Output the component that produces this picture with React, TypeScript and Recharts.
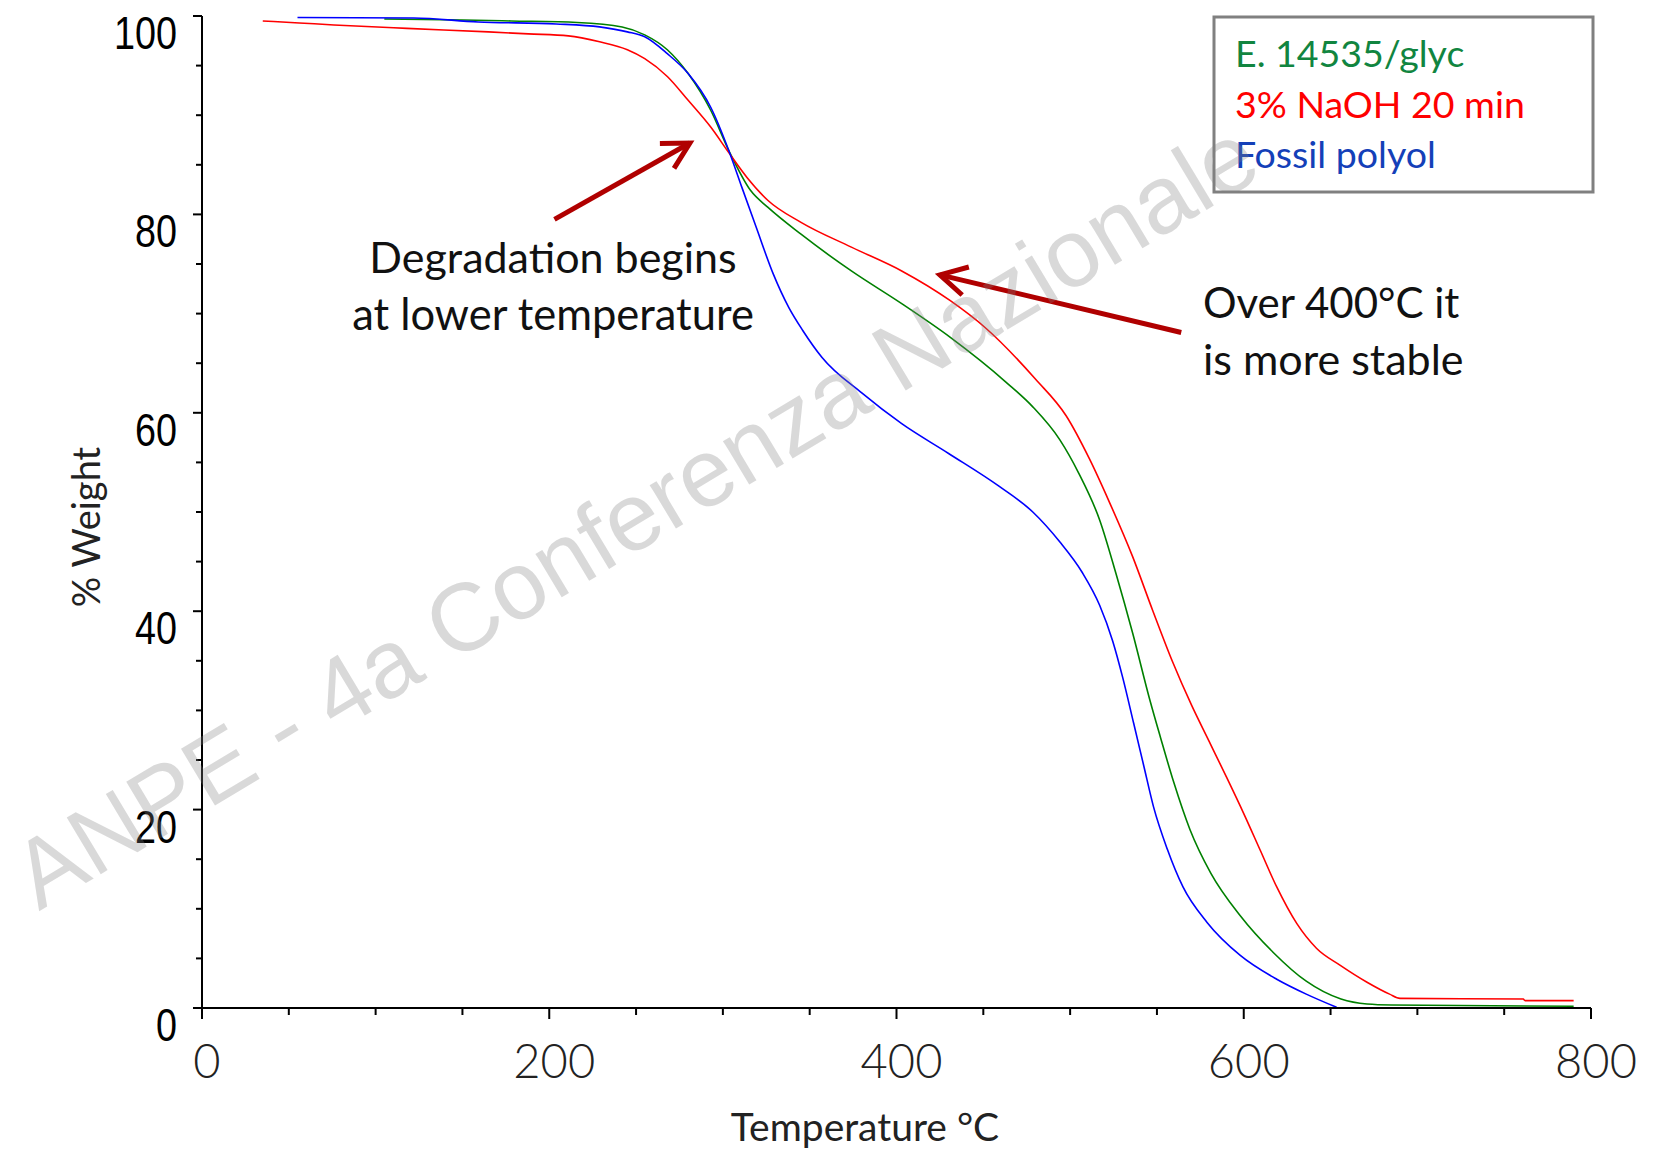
import { LineChart, Line, XAxis, YAxis, ReferenceLine } from 'recharts'

// series names, colours
const seriesNames = ['E. 14535/glyc', '3% NaOH 20 min', 'Fossil polyol']
const lineColors = ['#008000', '#ff0000', '#0000ff']
const legendColors = ['#118540', '#ff0000', '#1440b8']

// E. 14535/glyc
const glycTemp = [105, 150, 178, 216, 242, 255, 268, 280, 293, 303.5, 316, 326, 345, 374, 403, 431, 463, 478.5, 494, 505, 517, 526.4, 536, 546, 552, 559.6, 569, 581, 598, 617, 636, 656, 671, 685, 790]
const glycWeight = [99.7, 99.6, 99.5, 99.35, 98.9, 98.1, 96.6, 94.2, 90.5, 86.4, 82.4, 80.7, 78.0, 74.3, 71.0, 67.6, 63.1, 60.6, 57.3, 53.9, 49.2, 43.8, 37.8, 31.0, 27.3, 22.8, 18.0, 13.6, 9.3, 5.6, 2.7, 0.9, 0.4, 0.3, 0.17]

// 3% NaOH 20 min
const naohTemp = [35, 56, 76, 118, 165, 188, 211, 229, 245, 255, 268, 280, 293, 303.5, 314, 326, 345, 374, 403, 431, 451, 480, 497.7, 511, 522.6, 536, 547.5, 559, 570, 580, 590, 600, 609.5, 619, 630.6, 642, 655.6, 671, 684, 690, 761, 762, 790]
const naohWeight = [99.5, 99.3, 99.1, 98.75, 98.4, 98.2, 98.0, 97.4, 96.6, 95.7, 93.9, 91.5, 88.8, 86.2, 83.7, 81.4, 79.2, 76.7, 74.3, 71.3, 68.6, 63.4, 59.7, 55.4, 51.0, 45.5, 40.1, 34.9, 30.5, 26.9, 23.3, 19.6, 15.9, 12.2, 8.5, 6.0, 4.3, 2.6, 1.4, 0.97, 0.9, 0.74, 0.74]

// Fossil polyol
const fossilTemp = [55, 122, 159, 204, 229, 245, 255, 268, 280, 293, 303.5, 311, 319, 329, 338, 346, 357, 380, 403, 430, 459, 478.5, 494, 507, 517, 524.5, 530.3, 536.6, 542.3, 548, 556, 565, 579, 598, 619, 636, 653.5]
const fossilWeight = [99.85, 99.8, 99.4, 99.2, 98.9, 98.4, 97.9, 96.2, 94.2, 90.8, 86.4, 82.7, 78.8, 74.0, 70.6, 68.3, 65.6, 62.0, 58.9, 55.9, 52.6, 50.0, 47.0, 43.9, 40.6, 37.0, 33.3, 28.7, 24.5, 20.3, 16.0, 12.2, 8.6, 5.3, 2.9, 1.4, 0.07]

const xTicks = [0, 50, 100, 150, 200, 250, 300, 350, 400, 450, 500, 550, 600, 650, 700, 750, 800]
const yTicks = [0, 5, 10, 15, 20, 25, 30, 35, 40, 45, 50, 55, 60, 65, 70, 75, 80, 85, 90, 95, 100]

// annotation arrows: [tail, tip] in data units
const arrowLow = [{ x: 203, y: 79.5 }, { x: 281, y: 87.2 }]
const arrowHigh = [{ x: 564, y: 68.1 }, { x: 425, y: 73.9 }]

const zip = (t: number[], w: number[]) => t.map((x, i) => ({ t: x, w: w[i] }))
const seriesData = [zip(glycTemp, glycWeight), zip(naohTemp, naohWeight), zip(fossilTemp, fossilWeight)]

const XTick = (props: any) => {
  const { x, y, payload } = props
  const major = payload.value % 200 === 0
  return (
    <g>
      <line x1={x} y1={y} x2={x} y2={y + (major ? 11 : 7)} stroke='#000' strokeWidth={2} />
      {major && (
        <text x={x + 5} y={y + 70} textAnchor='middle' fontFamily='Lato' fontWeight={300} fontSize={47} fill='#222'>
          {payload.value}
        </text>
      )}
    </g>
  )
}

const YTick = (props: any) => {
  const { x, y, payload } = props
  const major = payload.value % 20 === 0
  const label = String(payload.value)
  return (
    <g>
      <line x1={x} y1={y} x2={x - (major ? 9 : 6)} y2={y} stroke='#000' strokeWidth={2} />
      {major && (
        <text
          x={x - 25}
          y={y + 33}
          textAnchor='end'
          fontFamily="'Liberation Sans', Arial, sans-serif"
          fontSize={46}
          textLength={label.length * 21}
          lengthAdjust='spacingAndGlyphs'
          fill='#000'
        >
          {label}
        </text>
      )}
    </g>
  )
}

const Arrow = (props: any) => {
  const { x1, y1, x2, y2 } = props
  const ang = Math.atan2(y2 - y1, x2 - x1)
  const len = 30
  const spread = 0.5
  const ax = x2 - len * Math.cos(ang - spread)
  const ay = y2 - len * Math.sin(ang - spread)
  const bx = x2 - len * Math.cos(ang + spread)
  const by = y2 - len * Math.sin(ang + spread)
  return (
    <g stroke='#b00000' strokeWidth={5} fill='none' strokeLinecap='butt'>
      <line x1={x1} y1={y1} x2={x2} y2={y2} />
      <polyline points={`${ax},${ay} ${x2},${y2} ${bx},${by}`} />
    </g>
  )
}

export default function App() {
  return (
    <div style={{ position: 'absolute', left: 0, top: 0, width: 1654, height: 1149, background: '#fff' }}>
      <LineChart width={1654} height={1149} margin={{ top: 16, right: 63, bottom: 0, left: 0 }}>
        <XAxis
          xAxisId='bottom'
          dataKey='t'
          type='number'
          domain={[0, 800]}
          ticks={xTicks}
          interval={0}
          tickSize={0}
          tickMargin={0}
          tickLine={false}
          tick={<XTick />}
          axisLine={{ stroke: '#000', strokeWidth: 2 }}
          height={141}
          allowDataOverflow
          label={{
            content: () => (
              <text x={865} y={1141} textAnchor='middle' fontFamily='Lato' fontSize={39} fill='#222'>
                Temperature °C
              </text>
            ),
          }}
        />
        <XAxis xAxisId='top' orientation='top' dataKey='t' type='number' domain={[0, 800]} tick={false} tickLine={false} height={0} axisLine={{ stroke: '#000', strokeWidth: 2 }} />
        <YAxis
          yAxisId='left'
          type='number'
          domain={[0, 100]}
          ticks={yTicks}
          interval={0}
          tickSize={0}
          tickMargin={0}
          tickLine={false}
          tick={<YTick />}
          axisLine={{ stroke: '#000', strokeWidth: 2 }}
          width={202}
          allowDataOverflow
          label={{
            content: () => (
              <text x={0} y={0} transform='translate(100 527) rotate(-90)' textAnchor='middle' fontFamily='Lato' fontSize={38} fill='#222'>
                % Weight
              </text>
            ),
          }}
        />
        <YAxis yAxisId='right' orientation='right' type='number' domain={[0, 100]} tick={false} tickLine={false} width={0} axisLine={{ stroke: '#000', strokeWidth: 2 }} />
        {seriesData.map((d, i) => (
          <Line
            key={seriesNames[i]}
            xAxisId='bottom'
            yAxisId='left'
            data={d}
            dataKey='w'
            name={seriesNames[i]}
            type='monotone'
            stroke={lineColors[i]}
            strokeWidth={1.6}
            dot={false}
            isAnimationActive={false}
          />
        ))}
        <ReferenceLine xAxisId='bottom' yAxisId='left' segment={arrowLow} ifOverflow='visible' shape={<Arrow />} />
        <ReferenceLine xAxisId='bottom' yAxisId='left' segment={arrowHigh} ifOverflow='visible' shape={<Arrow />} />
      </LineChart>
      <svg width={1654} height={1149} style={{ position: 'absolute', left: 0, top: 0, pointerEvents: 'none' }}>
        <rect x={1214} y={17} width={379} height={175} fill='#fff' stroke='#808080' strokeWidth={3} />
        {seriesNames.map((n, i) => (
          <text key={n} x={1235} y={67 + i * 50.5} fontFamily='Lato' fontSize={37.5} fill={legendColors[i]}>
            {n}
          </text>
        ))}
        <g fontFamily='Lato' fill='#111'>
          <text x={553} y={273} textAnchor='middle' fontSize={43}>Degradation begins</text>
          <text x={553} y={330} textAnchor='middle' fontSize={43.5}>at lower temperature</text>
          <text x={1203} y={318} fontSize={42}>Over 400°C it</text>
          <text x={1203} y={375} fontSize={43}>is more stable</text>
        </g>
        <text
          x={0}
          y={0}
          transform='translate(652 543) rotate(-31)'
          textAnchor='middle'
          fontFamily='Liberation Sans, Arial, sans-serif'
          fontSize={96}
          fill='#808080'
          fillOpacity={0.3}
        >
          ANPE - 4a Conferenza Nazionale
        </text>
      </svg>
    </div>
  )
}
